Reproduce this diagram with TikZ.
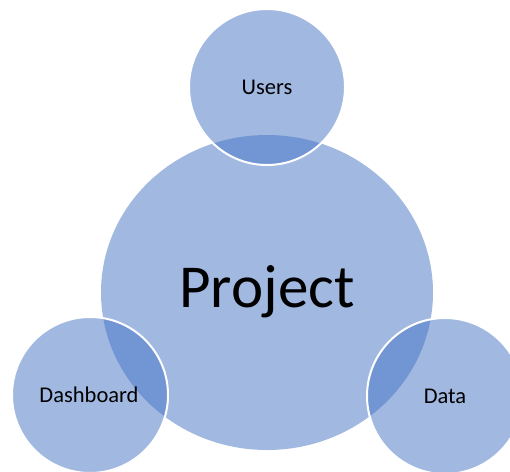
\documentclass[tikz,border=0pt]{standalone}
\usepackage{fontspec}
\setmainfont{Carlito}
\definecolor{officeblue}{HTML}{4472C4}
\begin{document}
\begin{tikzpicture}[x=1pt,y=-1pt,
  bubble/.style={fill=officeblue,fill opacity=0.5,draw=white,line width=2pt},
  bigbubble/.style={fill=officeblue,fill opacity=0.5,draw=none},
  smalllabel/.style={font=\fontsize{22.5}{27}\selectfont,text=black,inner sep=0pt},
  biglabel/.style={font=\fontsize{61}{70}\selectfont,text=black,inner sep=0pt}]
\useasboundingbox (0,0) rectangle (510,471);
\path[bigbubble] (267,292.5) ellipse [x radius=166, y radius=157.5];
\path[bubble] (267,87) circle [radius=78];
\path[bubble] (90,395) circle [radius=78];
\path[bubble] (445,396) circle [radius=78];
\node[biglabel] (project) at (267,292) {Project};
\node[smalllabel] (users) at (267,87) {Users};
\node[smalllabel] (dash) at (89,395) {Dashboard};
\node[smalllabel] (data) at (445,396) {Data};
\end{tikzpicture}
\end{document}
